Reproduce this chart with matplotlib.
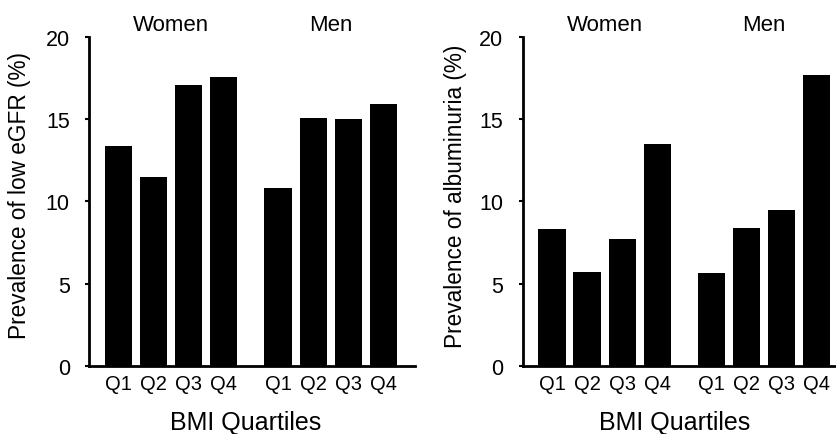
import matplotlib

matplotlib.use("Agg")
import matplotlib.pyplot as plt
import numpy as np

quartiles = ["Q1", "Q2", "Q3", "Q4"]
groups = ["Women", "Men"]

# prevalence (%) per BMI quartile, women then men
low_egfr_women = [13.4, 11.5, 17.1, 17.6]
low_egfr_men = [10.8, 15.1, 15.0, 15.95]
albuminuria_women = [8.3, 5.7, 7.7, 13.5]
albuminuria_men = [5.65, 8.4, 9.5, 17.7]

plt.rcParams["font.family"] = ["Liberation Sans", "DejaVu Sans"]

GAP = 1.55
pos_w = np.arange(4)
pos_m = np.arange(4) + 3 + GAP
positions = np.concatenate([pos_w, pos_m])


def draw_panel(ax, women, men, ylabel, xlim, xlabel_x):
    values = list(women) + list(men)
    ax.bar(positions, values, width=0.78, color="black")
    ax.set_xlim(*xlim)
    ax.set_ylim(0, 20)
    ax.set_yticks([0, 5, 10, 15, 20])
    ax.set_xticks(positions)
    ax.set_xticklabels(quartiles * 2, fontsize=14.5)
    ax.tick_params(axis="x", length=0, pad=6)
    ax.tick_params(axis="y", length=3, width=1.5, pad=11, labelsize=15.5)
    for side in ("top", "right"):
        ax.spines[side].set_visible(False)
    for side in ("left", "bottom"):
        ax.spines[side].set_linewidth(2)
    ax.set_ylabel(ylabel, fontsize=16.3)
    ax.yaxis.set_label_coords(-0.178, 0.52)
    for name, pos in zip(groups, (pos_w, pos_m)):
        ax.text(pos.mean(), 20.78, name, ha="center", va="center", fontsize=16)
    ax.set_xlabel("BMI Quartiles", fontsize=18)
    ax.xaxis.set_label_coords(xlabel_x, -0.135)


fig = plt.figure(figsize=(8.36, 4.35), dpi=100)
ax1 = fig.add_axes([0.1068, 0.157, 0.3896, 0.755])
ax2 = fig.add_axes([0.6252, 0.157, 0.3748, 0.755])

draw_panel(ax1, low_egfr_women, low_egfr_men, "Prevalence of low eGFR (%)",
           (-0.83, pos_m[-1] + 0.9), 0.48)
draw_panel(ax2, albuminuria_women, albuminuria_men, "Prevalence of albuminuria (%)",
           (-0.84, pos_m[-1] + 0.55), 0.486)

fig.savefig("out.png", dpi=100)
